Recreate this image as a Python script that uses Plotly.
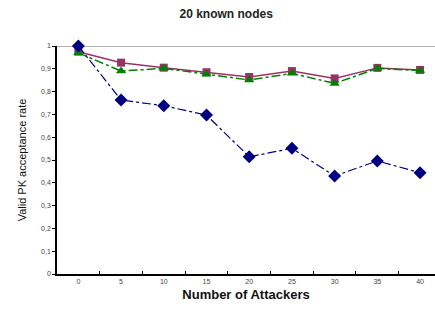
import plotly.graph_objects as go

attackers = ["0", "5", "10", "15", "20", "25", "30", "35", "40"]
series_blue = [1.0, 0.763, 0.738, 0.697, 0.514, 0.551, 0.43, 0.496, 0.444]
series_maroon = [0.975, 0.927, 0.905, 0.885, 0.864, 0.89, 0.858, 0.904, 0.895]
series_green = [0.97, 0.89, 0.902, 0.876, 0.851, 0.88, 0.836, 0.902, 0.892]

fig = go.Figure()
fig.add_trace(go.Scatter(x=attackers, y=series_maroon, mode="lines+markers", cliponaxis=False,
                         line=dict(color="#993366", width=1.5),
                         marker=dict(symbol="square", size=8, color="#993366")))
fig.add_trace(go.Scatter(x=attackers, y=series_green, mode="lines+markers", cliponaxis=False,
                         line=dict(color="#008000", width=1.5, dash="dashdot"),
                         marker=dict(symbol="triangle-up", size=9, color="#008000")))
fig.add_trace(go.Scatter(x=attackers, y=series_blue, mode="lines+markers", cliponaxis=False,
                         line=dict(color="#000080", width=1.2, dash="dashdot"),
                         marker=dict(symbol="diamond", size=10, color="#000080")))

fig.add_shape(type="line", xref="paper", yref="y", x0=0, x1=1, y0=1, y1=1,
              line=dict(color="#999999", width=1.5), layer="below")

fig.update_layout(
    width=435, height=313,
    margin=dict(l=57, r=0, t=46, b=39),
    paper_bgcolor="white", plot_bgcolor="white",
    showlegend=False,
    separators=",.",
    title=dict(text="<b>20 known nodes</b>", x=0.52, xanchor="center", y=0.955, yanchor="middle",
               font=dict(family="Liberation Sans, Arial", size=12, color="#222222")),
    xaxis=dict(type="category", range=[-0.5, 8.35], tickson="boundaries", automargin=False,
               ticks="inside", ticklen=3, tickcolor="#000", showline=True, linecolor="#000",
               linewidth=1.5, showgrid=False, zeroline=False,
               tickfont=dict(family="Liberation Sans, Arial", size=7, color="#444"),
               title=dict(text="<b>Number of Attackers</b>", standoff=6,
                          font=dict(family="Liberation Sans, Arial", size=13, color="#111"))),
    yaxis=dict(range=[0, 1], dtick=0.1, ticks="outside", ticklen=3, tickcolor="#000",
               automargin=False,
               showline=True, linecolor="#000", linewidth=1.5, showgrid=False, zeroline=False,
               tickfont=dict(family="Liberation Sans, Arial", size=7, color="#444"),
               title=dict(text="Valid PK acceptance rate", standoff=12,
                          font=dict(family="Liberation Sans, Arial", size=11, color="#111"))),
)

fig.write_html("out.html", config={"displayModeBar": False},
               post_script="document.body.style.margin='0';document.body.style.overflow='hidden';")
